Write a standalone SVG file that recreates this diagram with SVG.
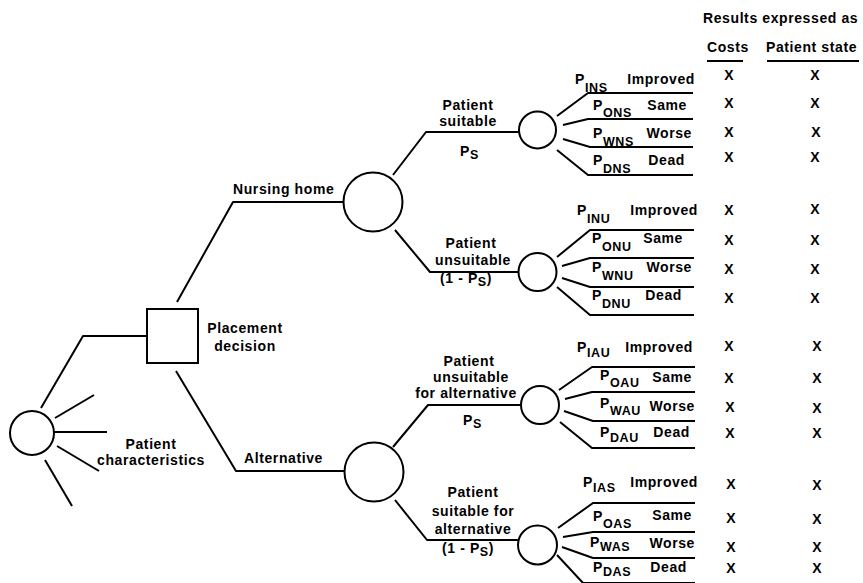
<svg xmlns="http://www.w3.org/2000/svg" width="863" height="583" viewBox="0 0 863 583">
<style>
.t{font-family:"Liberation Sans",Arial,sans-serif;font-weight:bold;font-size:14px;letter-spacing:0.6px;fill:#000}
.m{text-anchor:middle}
.e{text-anchor:end}
.s{font-size:12.5px}
.x{font-family:"Liberation Sans",Arial,sans-serif;font-weight:bold;font-size:14px;text-anchor:middle;fill:#000}
.ln{stroke:#000;stroke-width:2;fill:none;stroke-linejoin:round;stroke-linecap:butt}
.nd{stroke:#000;stroke-width:2;fill:#fff}
</style>
<rect width="863" height="583" fill="#fff"/>

<g id="connectors" class="ln">
  <polyline points="41,408 83,336 147,336"/>
  <line x1="55" y1="418" x2="94" y2="395"/>
  <line x1="54" y1="432" x2="107" y2="432"/>
  <line x1="57" y1="446" x2="99" y2="471"/>
  <line x1="45" y1="460" x2="72" y2="506"/>
  <polyline points="177,302 233,202 344,202"/>
  <polyline points="176,371 236,471 345,471"/>
  <polyline points="393,175 426,132 520,132"/>
  <polyline points="395,230 430,272 518,272"/>
  <polyline points="393,447 428,405 521,405"/>
  <polyline points="395,500 427,540 519,540"/>
  <polyline points="557,116 588,93 693,93"/>
  <polyline points="563,125 588,119 693,119"/>
  <polyline points="563,139 590,147 693,147"/>
  <polyline points="557,150 588,175 693,175"/>
  <polyline points="557,257 590,230 694,230"/>
  <polyline points="562,266 590,258 694,258"/>
  <polyline points="562,278 590,287 694,287"/>
  <polyline points="557,287 590,315 694,315"/>
  <polyline points="559,390 592,367 695,367"/>
  <polyline points="565,399 592,392 695,392"/>
  <polyline points="564,411 593,421 695,421"/>
  <polyline points="560,422 592,448 695,448"/>
  <polyline points="558,528 593,503 695,503"/>
  <polyline points="563,537 593,532 695,532"/>
  <polyline points="562,547 593,558 695,558"/>
  <polyline points="557,555 583,583 695,583"/>
</g>

<g id="root-chance">
  <circle class="nd" cx="32" cy="433" r="22"/>
  <text class="t m" x="151" y="449">Patient</text>
  <text class="t m" x="151" y="465">characteristics</text>
</g>

<g id="placement-decision">
  <rect class="nd" x="147" y="309" width="51" height="54"/>
  <text class="t m" x="245" y="333">Placement</text>
  <text class="t m" x="245" y="351">decision</text>
</g>

<g id="nursing-home">
  <circle class="nd" cx="373" cy="202" r="29.5"/>
  <text class="t" x="233" y="194">Nursing home</text>
</g>

<g id="alternative">
  <circle class="nd" cx="374" cy="472" r="29.5"/>
  <text class="t" x="244" y="463">Alternative</text>
</g>

<g id="ns-chance">
  <circle class="nd" cx="537.5" cy="130" r="18.5"/>
  <text class="t m" x="468" y="110">Patient</text>
  <text class="t m" x="468" y="126">suitable</text>
  <text class="t" x="460" y="156">P<tspan class="s" dy="3">S</tspan></text>
</g>

<g id="nu-chance">
  <circle class="nd" cx="537.5" cy="272" r="19"/>
  <text class="t m" x="471" y="248">Patient</text>
  <text class="t m" x="473" y="265">unsuitable</text>
  <text class="t" x="440" y="283">(1 - P<tspan class="s" dy="3">S</tspan><tspan dy="-3">)</tspan></text>
</g>

<g id="au-chance">
  <circle class="nd" cx="540" cy="405" r="19"/>
  <text class="t m" x="469" y="366">Patient</text>
  <text class="t m" x="471" y="382">unsuitable</text>
  <text class="t m" x="466" y="398">for alternative</text>
  <text class="t" x="463" y="425">P<tspan class="s" dy="3">S</tspan></text>
</g>

<g id="as-chance">
  <circle class="nd" cx="537.5" cy="545" r="19.5"/>
  <text class="t m" x="473" y="497">Patient</text>
  <text class="t m" x="473" y="516">suitable for</text>
  <text class="t m" x="473" y="534">alternative</text>
  <text class="t" x="442" y="553">(1 - P<tspan class="s" dy="3">S</tspan><tspan dy="-3">)</tspan></text>
</g>

<g id="outcomes-ns">
  <text class="t" x="575" y="84">P<tspan class="s" dy="8">INS</tspan></text><text class="t e" x="695" y="84">Improved</text>
  <text class="t" x="593" y="110">P<tspan class="s" dy="7">ONS</tspan></text><text class="t e" x="687" y="110">Same</text>
  <text class="t" x="593" y="138">P<tspan class="s" dy="8">WNS</tspan></text><text class="t e" x="692" y="138">Worse</text>
  <text class="t" x="593" y="165">P<tspan class="s" dy="8">DNS</tspan></text><text class="t e" x="685" y="165">Dead</text>
</g>

<g id="outcomes-nu">
  <text class="t" x="577" y="215">P<tspan class="s" dy="8">INU</tspan></text><text class="t e" x="698" y="215">Improved</text>
  <text class="t" x="592" y="243">P<tspan class="s" dy="8">ONU</tspan></text><text class="t e" x="683" y="243">Same</text>
  <text class="t" x="592" y="272">P<tspan class="s" dy="8">WNU</tspan></text><text class="t e" x="692" y="272">Worse</text>
  <text class="t" x="592" y="300">P<tspan class="s" dy="8">DNU</tspan></text><text class="t e" x="682" y="300">Dead</text>
</g>

<g id="outcomes-au">
  <text class="t" x="577" y="352">P<tspan class="s" dy="5">IAU</tspan></text><text class="t e" x="693" y="352">Improved</text>
  <text class="t" x="600" y="380">P<tspan class="s" dy="7">OAU</tspan></text><text class="t e" x="692" y="382">Same</text>
  <text class="t" x="600" y="408">P<tspan class="s" dy="7">WAU</tspan></text><text class="t e" x="695" y="411">Worse</text>
  <text class="t" x="600" y="437">P<tspan class="s" dy="5">DAU</tspan></text><text class="t e" x="690" y="437">Dead</text>
</g>

<g id="outcomes-as">
  <text class="t" x="583" y="487">P<tspan class="s" dy="5">IAS</tspan></text><text class="t e" x="698" y="487">Improved</text>
  <text class="t" x="593" y="521">P<tspan class="s" dy="7">OAS</tspan></text><text class="t e" x="692" y="520">Same</text>
  <text class="t" x="590" y="547">P<tspan class="s" dy="4">WAS</tspan></text><text class="t e" x="695" y="548">Worse</text>
  <text class="t" x="593" y="572">P<tspan class="s" dy="4">DAS</tspan></text><text class="t e" x="687" y="572">Dead</text>
</g>

<g id="results-header">
  <text class="t" x="703" y="23">Results expressed as</text>
  <text class="t" x="707" y="52">Costs</text>
  <text class="t" x="766" y="52">Patient state</text>
  <line class="ln" x1="707" y1="61" x2="743" y2="61"/>
  <line class="ln" x1="767" y1="61" x2="859" y2="61"/>
</g>

<g id="results-marks">
  <text class="x" x="729" y="80">X</text><text class="x" x="815" y="80">X</text>
  <text class="x" x="729" y="108">X</text><text class="x" x="815" y="108">X</text>
  <text class="x" x="729" y="137">X</text><text class="x" x="816" y="137">X</text>
  <text class="x" x="729" y="162">X</text><text class="x" x="815" y="162">X</text>
  <text class="x" x="729" y="215">X</text><text class="x" x="815" y="214">X</text>
  <text class="x" x="729" y="245">X</text><text class="x" x="815" y="245">X</text>
  <text class="x" x="729" y="274">X</text><text class="x" x="815" y="274">X</text>
  <text class="x" x="729" y="303">X</text><text class="x" x="815" y="303">X</text>
  <text class="x" x="729" y="351">X</text><text class="x" x="817" y="351">X</text>
  <text class="x" x="729" y="383">X</text><text class="x" x="817" y="383">X</text>
  <text class="x" x="730" y="412">X</text><text class="x" x="817" y="413">X</text>
  <text class="x" x="730" y="438">X</text><text class="x" x="817" y="438">X</text>
  <text class="x" x="731" y="489">X</text><text class="x" x="817" y="490">X</text>
  <text class="x" x="731" y="523">X</text><text class="x" x="817" y="524">X</text>
  <text class="x" x="731" y="552">X</text><text class="x" x="817" y="552">X</text>
  <text class="x" x="731" y="573">X</text><text class="x" x="817" y="573">X</text>
</g>
</svg>
